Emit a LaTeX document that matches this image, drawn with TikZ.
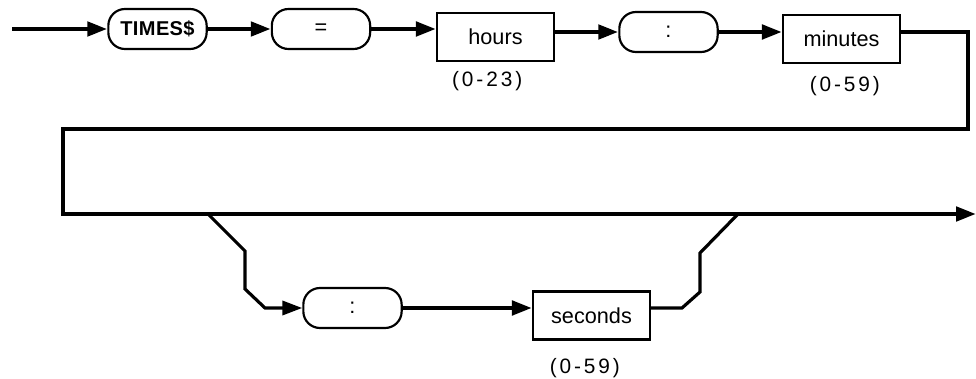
\documentclass[tikz,border=0pt]{standalone}
\usepackage{fontspec}
\setmainfont{Liberation Sans}
\usepackage{tikz}
\usetikzlibrary{arrows.meta,positioning}

\begin{document}
\begin{tikzpicture}[
  x=0.6pt, y=-0.6pt,
  font=\fontsize{13}{15}\selectfont,
  term/.style={
    draw, line width=1.3pt, rounded corners=10pt,
    minimum width=59pt, minimum height=24pt, inner sep=0pt
  },
  box/.style={
    draw, line width=1.5pt,
    minimum width=70pt, minimum height=29pt, inner sep=0pt
  },
  rangelabel/.style={inner sep=0pt,
    font=\fontsize{12.5}{14}\selectfont\addfontfeatures{LetterSpace=14}},
  arrow/.style={-{Triangle[length=12pt,width=8.5pt]}, line width=2.6pt},
  branch/.style={line width=1.9pt}
]
\useasboundingbox (0,0) rectangle (976,379);

% Nodes
\node[term, font=\fontsize{12}{15}\selectfont\bfseries\addfontfeatures{LetterSpace=2}]
  (times) at (157.5,29) {TIMES\$};
\node[term] (eq) at (321,29) {=};
\node[box] (hours) at (495.5,37) {hours};
\node[rangelabel, below=5pt of hours, xshift=-5pt] (hrange) {(0-23)};
\node[term] (colon) at (668.5,32) {:};
\node[box] (minutes) at (841.5,39) {minutes};
\node[rangelabel, below=7pt of minutes, xshift=2pt] (mrange) {(0-59)};

\node[term] (colon2) at (352.5,308) {:};
\node[box] (seconds) at (591.5,315.5) {seconds};
\node[rangelabel, below=10pt of seconds, xshift=-4pt] (srange) {(0-59)};

% Loop corners
\coordinate (start) at (12,29);
\coordinate (ne) at (968,129);
\coordinate (nw) at (63,129);
\coordinate (sw) at (63,214);
\coordinate (out) at (976,214);
\coordinate (bl) at (208,214);
\coordinate (br) at (738,214);

% Arrows
\draw[arrow] (start) -- (times.west);
\draw[arrow] (times) -- (eq);
\draw[arrow] (eq.east) -- (eq.east -| hours.west);
\draw[arrow] (hours.east |- colon) -- (colon.west);
\draw[arrow] (colon.east) -- (colon.east -| minutes.west);
\draw[arrow] (minutes.east |- colon) -| (ne) -- (nw) -- (sw) -- (out);

% Optional seconds
\draw[arrow, branch] (bl) -- (245,251) -- (245,289) -- (265,308) -- (colon2.west);
\draw[arrow] (colon2.east) -- (colon2.east -| seconds.west);
\draw[branch] (seconds.east |- colon2) -- (682,308) -- (700,292) -- (700,253) -- (br);

\end{tikzpicture}
\end{document}
